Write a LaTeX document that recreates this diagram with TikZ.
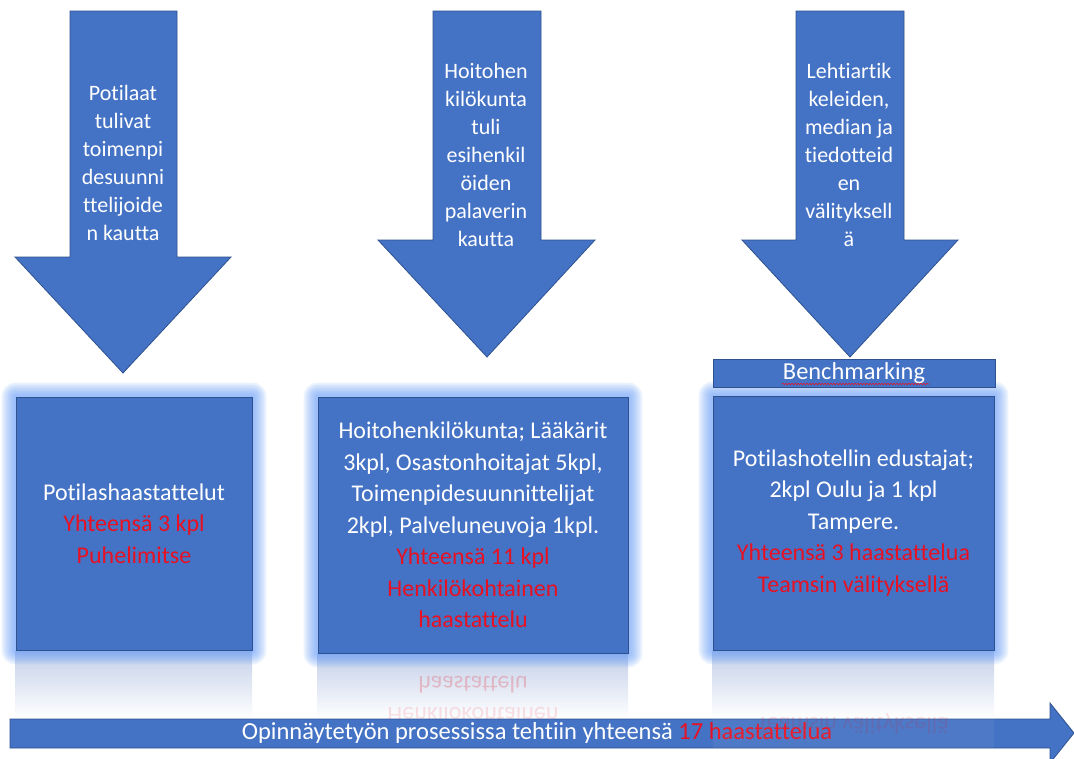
\documentclass[tikz,border=0pt]{standalone}
\usepackage{fontspec}
\setmainfont{Carlito}[Ligatures={NoCommon,NoRare,NoContextual}]
\usetikzlibrary{backgrounds,decorations.pathmorphing,calc}
\definecolor{boxblue}{RGB}{68,114,196}
\definecolor{edgeblue}{RGB}{47,82,143}
\definecolor{txtred}{RGB}{232,17,35}
\definecolor{glowc}{RGB}{100,155,250}
\definecolor{reflc}{RGB}{196,208,232}
\tikzset{
  shapefill/.style={fill=boxblue, draw=edgeblue, line width=0.8pt},
  boxnode/.style={shapefill, inner sep=0pt, text=white, align=center,
    font=\fontsize{24}{31.5}\selectfont},
  arrowtext/.style={text=white, align=center, inner sep=0pt,
    font=\fontsize{22}{28}\selectfont},
  mirrortext/.style={yscale=-1, text=txtred, opacity=0.22, inner sep=0pt,
    font=\fontsize{24}{31.5}\selectfont},
  glowring/.style={fill=glowc, opacity=0.13},
}
\newcommand{\myglow}[1]{%
  \foreach \k in {14,12,10,8,6,4,2}{
    \fill[glowring, rounded corners=\k pt]
      ($(#1.south west)+(-\k,\k)$) rectangle ($(#1.north east)+(\k,-\k)$);
  }}
\newcommand{\red}[1]{\textcolor{txtred}{#1}}
\begin{document}
\begin{tikzpicture}[x=1pt,y=-1pt]
\useasboundingbox (0,0) rectangle (1074,758);

% boxes
\node[boxnode, minimum width=236pt, minimum height=253pt] (b1) at (134,523.5)
  {Potilashaastattelut\\ \red{Yhteensä 3 kpl}\\ \red{Puhelimitse}};
\node[boxnode, minimum width=310pt, minimum height=256pt] (b2) at (473,525)
  {Hoitohenkilökunta; Lääkärit\\3kpl, Osastonhoitajat 5kpl,\\Toimenpidesuunnittelijat\\2kpl, Palveluneuvoja 1kpl.\\ \red{Yhteensä 11 kpl}\\ \red{Henkilökohtainen}\\ \red{haastattelu}};
\node[boxnode, minimum width=281pt, minimum height=254pt] (b3) at (853.5,523)
  {Potilashotellin edustajat;\\2kpl Oulu ja 1 kpl\\Tampere.\\ \red{Yhteensä 3 haastattelua}\\ \red{Teamsin välityksellä}};

\begin{scope}[on background layer]
  \fill[white] (0,0) rectangle (1074,758);
  % reflections
  \shade[top color=reflc, bottom color=white] (b1.south west) rectangle (252,719);
  \shade[top color=reflc, bottom color=white] (b2.south west) rectangle (628,719);
  \shade[top color=reflc, bottom color=white] (b3.south west) rectangle (994,719);
  \node[mirrortext] (m2a) at (473,685) {haastattelu};
  \node[mirrortext, opacity=0.12] (m2b) at (473,716) {Henkilökohtainen};
  % glows
  \myglow{b1}
  \myglow{b2}
  \myglow{b3}
\end{scope}

% benchmarking
\node[shapefill, minimum width=282pt, minimum height=28pt, inner sep=0pt,
  text=white, font=\fontsize{24.4}{28}\selectfont] (bm) at (854,373) {Benchmarking};
\draw[txtred, line width=0.6pt, decorate,
  decoration={snake, amplitude=0.7pt, segment length=3pt}]
  ($(bm.center)+(-72,11)$) coordinate (w1) -- ($(bm.center)+(75,11)$) coordinate (w2);

% down arrows
\draw[shapefill] (70,11) -- (177,11) -- (177,257) -- (231,257) -- (123,373)
  -- (15,257) -- (70,257) -- cycle;
\node[arrowtext] (a1) at (123,163)
  {Potilaat\\tulivat\\toimenpi\\desuunni\\ttelijoide\\n kautta};
\draw[shapefill] (433,11) -- (541,11) -- (541,240) -- (595,240) -- (487,357)
  -- (378,240) -- (433,240) -- cycle;
\node[arrowtext] (a2) at (486,155)
  {Hoitohen\\kilökunta\\tuli\\esihenkil\\öiden\\palaverin\\kautta};
\draw[shapefill] (796,11) -- (904,11) -- (904,240) -- (958,240) -- (850,357)
  -- (742,240) -- (796,240) -- cycle;
\node[arrowtext] (a3) at (849,155)
  {Lehtiartik\\keleiden,\\median ja\\tiedotteid\\en\\välityksell\\ä};

% bottom timeline arrow
\draw[shapefill] (10,719) -- (1050,719) -- (1050,703) -- (1074,733)
  -- (1050,763) -- (1050,748) -- (10,748) -- cycle;
\node[text=white, inner sep=0pt, font=\fontsize{24.5}{28}\selectfont] (tl) at (537,733)
  {Opinnäytetyön prosessissa tehtiin yhteensä \red{17 haastattelua}};

% box 3 reflection over the timeline arrow
\fill[white, opacity=0.05] (713,719) rectangle (994,748);
\node[mirrortext, opacity=0.13] (m3) at (853,724) {Teamsin välityksellä};
\end{tikzpicture}
\end{document}
